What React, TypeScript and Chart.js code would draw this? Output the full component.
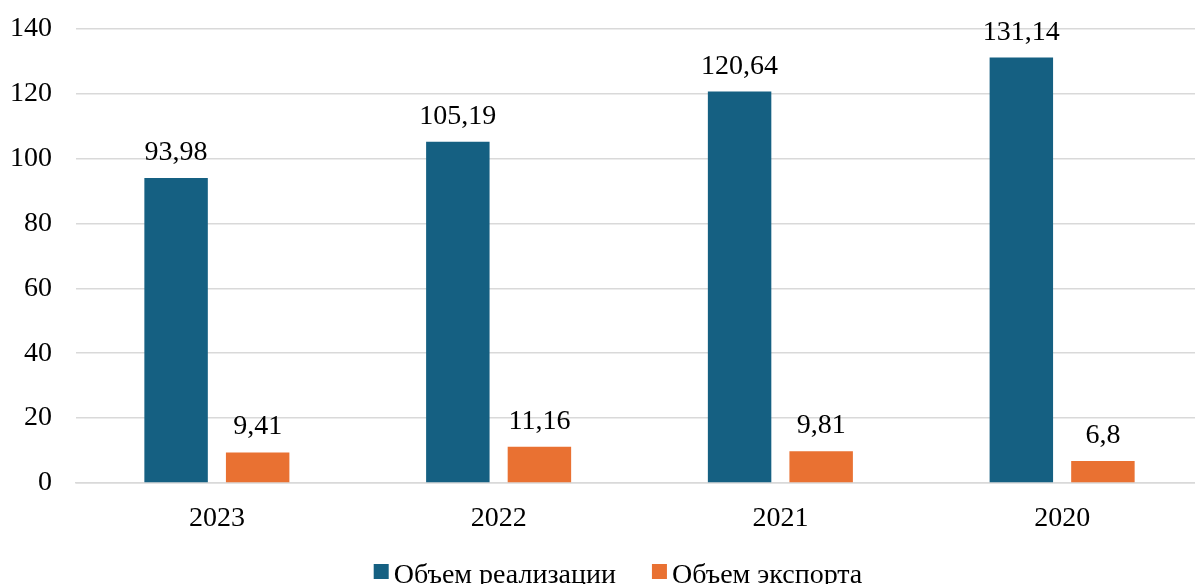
import React, { useEffect, useRef } from "react";
import { Chart, registerables } from "chart.js";

Chart.register(...registerables);

const categories = ["2023", "2022", "2021", "2020"];
const salesVolume = [93.98, 105.19, 120.64, 131.14];
const exportVolume = [9.41, 11.16, 9.81, 6.8];
const seriesNames = ["Объем реализации", "Объем экспорта"];
const colors = ["#156082", "#E97132"];

const FONT = "'Liberation Serif', 'Times New Roman', serif";
const FS = 28;
const SHIFT = 12;
const EXTRA_W = 8;
const W = 1195;
const H = 584;

const valueLabels = {
  id: "valueLabels",
  afterDatasetsDraw(chart: any) {
    const ctx = chart.ctx;
    ctx.save();
    ctx.font = `${FS}px ${FONT}`;
    ctx.fillStyle = "#000";
    ctx.textAlign = "center";
    ctx.textBaseline = "alphabetic";
    chart.data.datasets.forEach((ds: any, i: number) => {
      const meta = chart.getDatasetMeta(i);
      meta.data.forEach((bar: any, j: number) => {
        const v = ds.data[j] as number;
        const txt = String(v).replace(".", ",");
        ctx.fillText(txt, bar.x, bar.y - 18);
      });
    });
    ctx.restore();
  },
};

const customLegend = {
  id: "customLegend",
  afterDraw(chart: any) {
    const ctx = chart.ctx;
    ctx.save();
    ctx.font = `${FS}px ${FONT}`;
    ctx.textBaseline = "alphabetic";
    ctx.textAlign = "left";
    const box = 15;
    const gapBoxText = 5;
    const gapItems = 36;
    const widths = chart.data.datasets.map((d: any) => ctx.measureText(d.label).width);
    let total = 0;
    widths.forEach((w: number, i: number) => {
      total += box + gapBoxText + w + (i < widths.length - 1 ? gapItems : 0);
    });
    let x = 618 - total / 2;
    const boxTop = 564 + SHIFT;
    const baseline = 583 + SHIFT;
    chart.data.datasets.forEach((d: any, i: number) => {
      ctx.fillStyle = d.backgroundColor;
      ctx.fillRect(x, boxTop, box, box);
      x += box + gapBoxText;
      ctx.fillStyle = "#000";
      ctx.fillText(d.label, x, baseline);
      x += widths[i] + gapItems;
    });
    ctx.restore();
  },
};

export default function App() {
  const ref = useRef<HTMLCanvasElement | null>(null);
  useEffect(() => {
    document.body.style.margin = "0";
    const chart = new Chart(ref.current as HTMLCanvasElement, {
      type: "bar",
      data: {
        labels: categories,
        datasets: [
          {
            label: seriesNames[0],
            data: salesVolume,
            backgroundColor: colors[0],
            categoryPercentage: 0.579,
            barPercentage: 0.778,
          },
          {
            label: seriesNames[1],
            data: exportVolume,
            backgroundColor: colors[1],
            categoryPercentage: 0.579,
            barPercentage: 0.778,
          },
        ],
      },
      options: {
        animation: false,
        responsive: false,
        maintainAspectRatio: false,
        layout: { padding: { left: 0, right: 0, top: 0, bottom: 0 } },
        scales: {
          x: {
            grid: { display: false, drawTicks: false },
            border: { display: true, color: "#D9D9D9", width: 1.5 },
            ticks: { color: "#000", font: { family: FONT, size: FS }, padding: 19 },
            afterFit: (scale: any) => {
              scale.height = 101;
            },
          },
          y: {
            min: 0,
            max: 140,
            ticks: { stepSize: 20, color: "#000", font: { family: FONT, size: FS }, padding: 24 },
            grid: { color: "#D9D9D9", lineWidth: 1.5, drawTicks: false },
            border: { display: false },
            afterFit: (scale: any) => {
              scale.width = 76;
            },
          },
        },
        plugins: {
          legend: { display: false },
          tooltip: { enabled: false },
        },
      },
      plugins: [valueLabels, customLegend],
    });
    return () => chart.destroy();
  }, []);
  return (
    <div style={{ width: W, height: H, overflow: "hidden", position: "relative" }}>
      <canvas
        ref={ref}
        width={W + EXTRA_W}
        height={H + SHIFT}
        style={{ display: "block", position: "absolute", left: 0, top: -SHIFT }}
      />
    </div>
  );
}
